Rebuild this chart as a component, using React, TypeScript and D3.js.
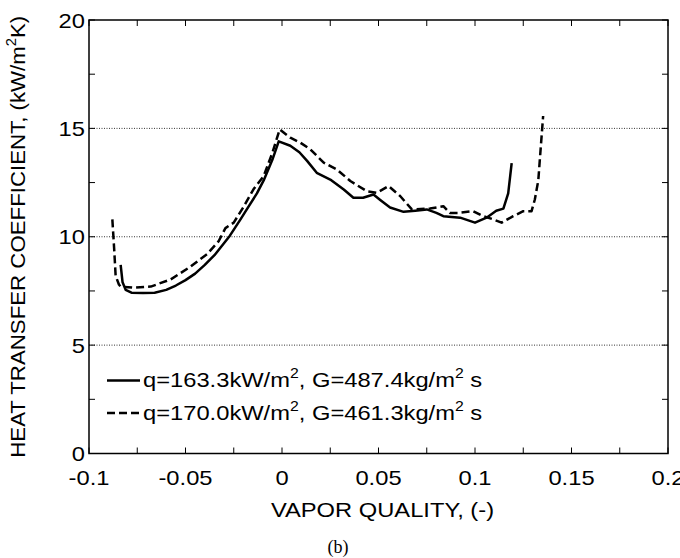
import React from "react";
import * as d3 from "d3";

const xTickValues = [-0.1, -0.05, 0, 0.05, 0.1, 0.15, 0.2];
const xTickLabels = ["-0.1", "-0.05", "0", "0.05", "0.1", "0.15", "0.2"];
const yTickValues = [0, 5, 10, 15, 20];
const yTickLabels = ["0", "5", "10", "15", "20"];
const gridValues = [5, 10, 15];

const solidX = [-0.0836, -0.0826, -0.081, -0.078, -0.072, -0.066, -0.06, -0.055, -0.05, -0.045, -0.04, -0.035, -0.031, -0.027, -0.0215, -0.018, -0.013, -0.0095, -0.005, -0.0017, 0.0043, 0.009, 0.013, 0.018, 0.025, 0.032, 0.037, 0.042, 0.0474, 0.0509, 0.056, 0.063, 0.069, 0.075, 0.08, 0.0836, 0.0923, 0.1, 0.106, 0.111, 0.1147, 0.1172, 0.119];
const solidY = [8.7, 7.9, 7.55, 7.42, 7.4, 7.42, 7.55, 7.75, 8.0, 8.3, 8.7, 9.15, 9.6, 10.05, 10.8, 11.3, 12.0, 12.6, 13.55, 14.4, 14.2, 13.9, 13.5, 12.95, 12.64, 12.18, 11.8, 11.8, 11.95, 11.7, 11.35, 11.15, 11.2, 11.26, 11.1, 10.95, 10.88, 10.65, 10.88, 11.2, 11.3, 12.0, 13.4];

const dashX = [-0.0879, -0.087, -0.0862, -0.0845, -0.0836, -0.0767, -0.068, -0.0577, -0.0474, -0.0388, -0.0328, -0.0293, -0.025, -0.0198, -0.0147, -0.0095, -0.005, -0.0012, 0.0043, 0.0095, 0.0147, 0.0216, 0.0285, 0.0354, 0.044, 0.0492, 0.0552, 0.0612, 0.0673, 0.0767, 0.0836, 0.087, 0.0914, 0.0991, 0.1043, 0.1095, 0.1138, 0.1198, 0.125, 0.1293, 0.131, 0.1328, 0.1336, 0.1353];
const dashY = [10.8, 9.5, 8.2, 7.8, 7.7, 7.65, 7.7, 8.03, 8.62, 9.2, 9.8, 10.4, 10.65, 11.4, 12.2, 12.8, 13.87, 14.95, 14.57, 14.34, 14.03, 13.42, 13.1, 12.57, 12.1, 12.03, 12.34, 11.88, 11.26, 11.3, 11.41, 11.1, 11.1, 11.18, 10.95, 10.8, 10.65, 10.95, 11.18, 11.18, 11.72, 12.6, 13.57, 15.57];

const seriesLabels = ["q=163.3kW/m", ", G=487.4kg/m", " s", "q=170.0kW/m", ", G=461.3kg/m", " s"];

const FONT = "'Liberation Sans', Arial, sans-serif";
const SX = 1.13;

export default function App() {
  const left = 89, right = 668, top = 20, bottom = 453.5;
  const x = d3.scaleLinear().domain([-0.1, 0.2]).range([left, right]);
  const y = d3.scaleLinear().domain([0, 20]).range([bottom, top]);
  const line = d3.line<[number, number]>().x(d => x(d[0])).y(d => y(d[1]));
  const solid = line(solidX.map((v, i) => [v, solidY[i]] as [number, number])) || "";
  const dashed = line(dashX.map((v, i) => [v, dashY[i]] as [number, number])) || "";
  const xMinor = d3.range(0, 13).map(i => -0.1 + i * 0.025);
  const yMinor = d3.range(0, 9).map(i => i * 2.5);
  const tl = 6;

  const legendRow = (yy: number, idx: number, dash: boolean) => (
    <g>
      <line x1={107} x2={140} y1={yy - 6.5} y2={yy - 6.5} stroke="#000" strokeWidth={2.5} strokeDasharray={dash ? "8,4" : undefined} />
      <text transform={`translate(143,${yy}) scale(${SX},1)`} fontSize={21} fontFamily={FONT}>
        {seriesLabels[idx]}
        <tspan dy={-9} fontSize={14}>2</tspan>
        <tspan dy={9}>{seriesLabels[idx + 1]}</tspan>
        <tspan dy={-9} fontSize={14}>2</tspan>
        <tspan dy={9}>{seriesLabels[idx + 2]}</tspan>
      </text>
    </g>
  );

  return (
    <svg width={680} height={558} style={{ position: "absolute", left: 0, top: 0, background: "#fff" }}>
      <rect x={0} y={0} width={680} height={558} fill="#fff" />
      {gridValues.map(v => (
        <line key={"g" + v} x1={left} x2={right} y1={y(v)} y2={y(v)} stroke="#000" strokeWidth={0.8} strokeDasharray="1,1.5" />
      ))}
      {xMinor.map((v, i) => (
        <g key={"xt" + i}>
          <line x1={x(v)} x2={x(v)} y1={bottom} y2={bottom - tl} stroke="#000" strokeWidth={1} />
          <line x1={x(v)} x2={x(v)} y1={top} y2={top + tl} stroke="#000" strokeWidth={1} />
        </g>
      ))}
      {yMinor.map((v, i) => (
        <g key={"yt" + i}>
          <line x1={left} x2={left + tl} y1={y(v)} y2={y(v)} stroke="#000" strokeWidth={1} />
          <line x1={right} x2={right - tl} y1={y(v)} y2={y(v)} stroke="#000" strokeWidth={1} />
        </g>
      ))}
      <rect x={left} y={top} width={right - left} height={bottom - top} fill="none" stroke="#000" strokeWidth={1.5} />
      {xTickValues.map((v, i) => (
        <text key={"xl" + i} transform={`translate(${x(v)},485) scale(${SX},1)`} fontSize={21} fontFamily={FONT} textAnchor="middle">{xTickLabels[i]}</text>
      ))}
      {yTickValues.map((v, i) => (
        <text key={"yl" + i} transform={`translate(${left - 4},${y(v) + 7.5}) scale(${SX},1)`} fontSize={21} fontFamily={FONT} textAnchor="end">{yTickLabels[i]}</text>
      ))}
      <path d={solid} fill="none" stroke="#000" strokeWidth={2.5} strokeLinejoin="round" />
      <path d={dashed} fill="none" stroke="#000" strokeWidth={2.5} strokeDasharray="8,4" strokeLinejoin="round" />
      {legendRow(387, 0, false)}
      {legendRow(419.5, 3, true)}
      <text transform={`translate(${(left + right) / 2 + 4},517) scale(${SX},1)`} fontSize={21} fontFamily={FONT} textAnchor="middle">VAPOR QUALITY, (-)</text>
      <text transform={`translate(25,${(top + bottom) / 2}) rotate(-90) scale(1.06,1)`} fontSize={21} fontFamily={FONT} textAnchor="middle">
        HEAT TRANSFER COEFFICIENT, (kW/m<tspan dy={-9} fontSize={14}>2</tspan><tspan dy={9}>K)</tspan>
      </text>
      <text x={338} y={553} fontSize={18} fontFamily="'Liberation Serif', 'Times New Roman', serif" textAnchor="middle">(b)</text>
    </svg>
  );
}
